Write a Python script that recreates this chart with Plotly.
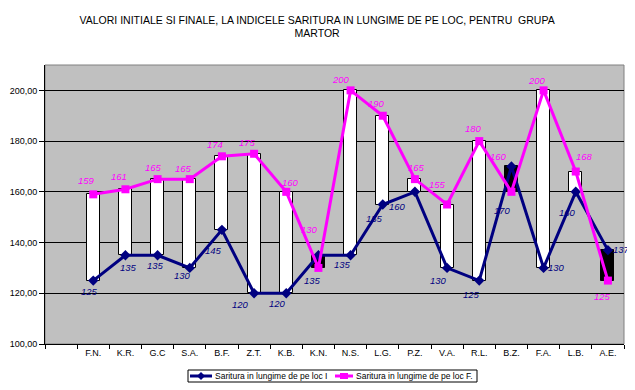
import plotly.graph_objects as go

categories = ["F.N.", "K.R.", "G.C", "S.A.", "B.F.", "Z.T.", "K.B.", "K.N.", "N.S.",
              "L.G.", "P.Z.", "V.A.", "R.L.", "B.Z.", "F.A.", "L.B.", "A.E."]
initial = [125, 135, 135, 130, 145, 120, 120, 135, 135, 155, 160, 130, 125, 170, 130, 160, 137]
final = [159, 161, 165, 165, 174, 175, 160, 130, 200, 190, 165, 155, 180, 160, 200, 168, 125]
y_ticks = [100, 120, 140, 160, 180, 200]

name_i = "Saritura in lungime de pe loc I"
name_f = "Saritura in lungime de pe loc F."
title = "VALORI INITIALE SI FINALE, LA INDICELE SARITURA IN LUNGIME DE PE LOC, PENTRU  GRUPA<br>MARTOR"

# label offsets in pixels (dx, dy up)
off_i = [(-4, -11), (3, -12), (-2, -10), (-7, -8), (-8, -21), (-14, -11), (-9, -10), (-6, -25), (-8, -9),
         (-8, -14), (-17, -15), (-9, -13), (-8, -14), (-9, -44), (13, 0), (-8, -21), (14, 1)]
off_f = [(-7, 14), (-6, 13), (-4, 12), (-6, 11), (-7, 12), (-7, 11), (4, 9), (-9, 38), (-10, 11),
         (-6, 12), (2, 12), (-10, 20), (-6, 13), (-13, 35), (-7, 10), (9, 15), (-5, -16)]

NAVY = "#000080"
MAG = "#FF00FF"
FONT = "Liberation Sans, Arial, sans-serif"

bases = [min(a, b) for a, b in zip(initial, final)]
heights = [abs(b - a) for a, b in zip(initial, final)]
bar_colors = ["white" if b > a else "black" for a, b in zip(initial, final)]

fig = go.Figure()
fig.add_trace(go.Bar(x=categories, y=heights, base=bases, width=0.4,
                     marker=dict(color=bar_colors, line=dict(color="black", width=1)),
                     showlegend=False, hoverinfo="skip"))
fig.add_trace(go.Scatter(x=categories, y=initial, mode="lines+markers", name=name_i,
                         line=dict(color=NAVY, width=3), showlegend=False,
                         marker=dict(symbol="diamond", size=8, color=NAVY)))
fig.add_trace(go.Scatter(x=categories, y=final, mode="lines+markers", name=name_f,
                         line=dict(color=MAG, width=3), showlegend=False,
                         marker=dict(symbol="square", size=8, color=MAG)))

for c, v, (dx, dy) in zip(categories, initial, off_i):
    fig.add_annotation(x=c, y=v, text=str(v), showarrow=False, xshift=dx, yshift=dy,
                       font=dict(family=FONT, size=9.5, color=NAVY, style="italic"))
for c, v, (dx, dy) in zip(categories, final, off_f):
    fig.add_annotation(x=c, y=v, text=str(v), showarrow=False, xshift=dx, yshift=dy,
                       font=dict(family=FONT, size=9.5, color=MAG, style="italic"))

# plot-area border (grey, Excel style)
fig.add_shape(type="rect", xref="paper", yref="paper", x0=0, x1=1, y0=0, y1=1,
              line=dict(color="#808080", width=1), fillcolor="rgba(0,0,0,0)", layer="below")

# --- custom compact legend (paper coordinates of the plot area) ---
PW, PH = 579.0, 279.0          # plot area size in px
def px(dx):                     # px offset from plot left -> paper x
    return dx / PW
def py(dy):                     # px offset below plot bottom -> paper y
    return -dy / PH

leg_top, leg_bot = 26, 38       # px below the plot bottom
leg_mid = (leg_top + leg_bot) / 2
fig.add_shape(type="rect", xref="paper", yref="paper",
              x0=px(143), x1=px(432), y0=py(leg_bot), y1=py(leg_top),
              line=dict(color="black", width=1), fillcolor="white")
entries = [(name_i, NAVY, "diamond", 145, 167), (name_f, MAG, "square", 290, 308)]
for name, col, sym, x0, x1 in entries:
    fig.add_shape(type="line", xref="paper", yref="paper",
                  x0=px(x0), x1=px(x1), y0=py(leg_mid), y1=py(leg_mid),
                  line=dict(color=col, width=3))
    cx = px((x0 + x1) / 2)
    if sym == "diamond":
        fig.add_shape(type="path", xref="paper", yref="paper", xsizemode="pixel", ysizemode="pixel",
                      xanchor=cx, yanchor=py(leg_mid), path="M -4 0 L 0 4 L 4 0 L 0 -4 Z",
                      line=dict(color=col, width=0), fillcolor=col)
    else:
        fig.add_shape(type="rect", xref="paper", yref="paper", xsizemode="pixel", ysizemode="pixel",
                      xanchor=cx, yanchor=py(leg_mid), x0=-4, x1=4, y0=-3, y1=3,
                      line=dict(color=col, width=0), fillcolor=col)
    fig.add_annotation(xref="paper", yref="paper", x=px(x1 + 1), y=py(leg_mid),
                       xanchor="left", yanchor="middle", text=name, showarrow=False,
                       font=dict(family=FONT, size=8.5, color="black"))

# the page body has an 8px margin, so the figure is sized to the visible area
fig.update_layout(
    width=627, height=382,
    margin=dict(l=37, r=11, t=57, b=46, autoexpand=False),
    paper_bgcolor="white", plot_bgcolor="#C0C0C0",
    separators=",.",
    font=dict(family=FONT, size=9, color="black"),
    title=dict(text=title, x=0.493, xanchor="center", y=0.9594, yanchor="middle",
               font=dict(family=FONT, size=10.5, color="black")),
    xaxis=dict(type="category", categoryorder="array", categoryarray=[" "] + categories,
               range=[-0.5, len(categories) + 0.5],
               tickson="boundaries", ticks="outside", ticklen=4, tickcolor="black",
               showline=True, linecolor="black", linewidth=1, showgrid=False,
               tickfont=dict(size=9, color="black"), fixedrange=True),
    yaxis=dict(range=[100, 210], tickvals=y_ticks, tickformat=".2f",
               ticks="outside", ticklen=5, tickcolor="black",
               showline=True, linecolor="black", linewidth=1,
               showgrid=True, gridcolor="black", gridwidth=1, zeroline=False,
               tickfont=dict(size=9, color="black")),
    showlegend=False,
    bargap=0,
)

fig.write_html("out.html")
